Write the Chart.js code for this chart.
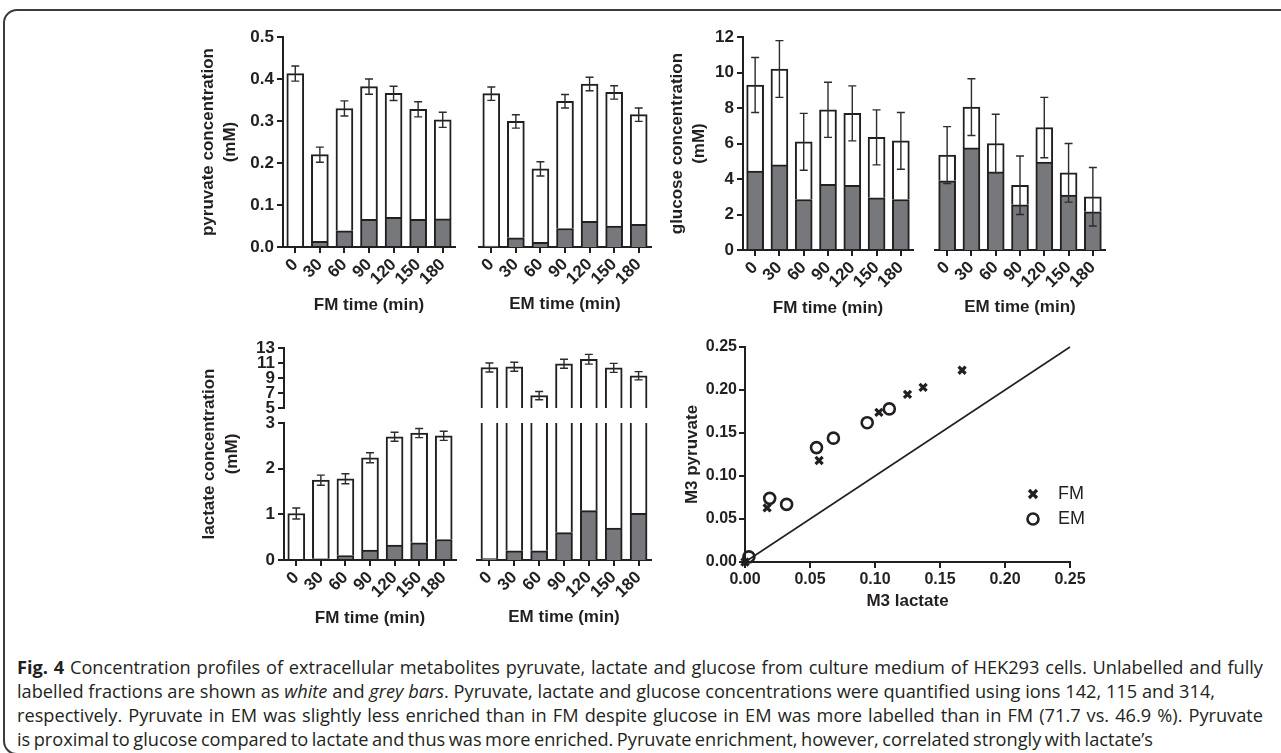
<!DOCTYPE html>
<html>
<head>
<meta charset="utf-8">
<script src="https://cdn.jsdelivr.net/npm/chart.js@4.4.1/dist/chart.umd.min.js"></script>
<style>
  html, body { margin: 0; padding: 0; background: #fff; }
  body { width: 1281px; height: 753px; position: relative; overflow: hidden; color: #231f20;
         font-family: "Liberation Sans", Arial, sans-serif; }
  canvas { position: absolute; }
  #frame { position: absolute; left: 3px; top: 9px; width: 1330px; height: 746px;
           border: 2px solid #3c3c3c; border-radius: 14px; box-sizing: border-box; }
  .ytitle { position: absolute; font-weight: bold; font-size: 17px; line-height: 23px;
            text-align: center; transform: rotate(-90deg); white-space: nowrap; }
  .cap { position: absolute; left: 17px; font-family: "Open Sans", "Noto Sans", sans-serif;
         font-size: 16px; line-height: 24px; white-space: nowrap; color: #231f20; }
  .cap b { font-weight: bold; }
</style>
</head>
<body>
<div id="frame"></div>

<canvas id="pyrFM"></canvas>
<canvas id="pyrEM"></canvas>
<canvas id="gluFM"></canvas>
<canvas id="gluEM"></canvas>
<canvas id="lacFMup"></canvas>
<canvas id="lacFMlow"></canvas>
<canvas id="lacEMup"></canvas>
<canvas id="lacEMlow"></canvas>
<canvas id="scatter"></canvas>

<div class="ytitle" style="left:100px; top:431px; width:240px; height:46px;">lactate concentration<br>(mM)</div>

<div class="cap" style="top:655px;"><span><b>Fig. 4</b> Concentration profiles of extracellular metabolites pyruvate, lactate and glucose from culture medium of HEK293 cells. Unlabelled and fully</span></div>
<div class="cap" style="top:679px;"><span>labelled fractions are shown as <i>white</i> and <i>grey bars</i>. Pyruvate, lactate and glucose concentrations were quantified using ions 142, 115 and 314,</span></div>
<div class="cap" style="top:703px;"><span>respectively. Pyruvate in EM was slightly less enriched than in FM despite glucose in EM was more labelled than in FM (71.7 vs. 46.9 %). Pyruvate</span></div>
<div class="cap" style="top:727px;"><span>is proximal to glucose compared to lactate and thus was more enriched. Pyruvate enrichment, however, correlated strongly with lactate’s</span></div>

<script>
// time points (min)
const times = ['0', '30', '60', '90', '120', '150', '180'];

// pyruvate (mM): total, labelled (grey) part, error
const pyrFmTotal = [0.413, 0.220, 0.330, 0.382, 0.366, 0.328, 0.303];
const pyrFmLabel = [0.0, 0.014, 0.039, 0.066, 0.071, 0.066, 0.067];
const pyrFmErr = [0.018, 0.018, 0.018, 0.018, 0.017, 0.018, 0.018];
const pyrEmTotal = [0.365, 0.299, 0.186, 0.347, 0.388, 0.368, 0.315];
const pyrEmLabel = [0.002, 0.022, 0.011, 0.044, 0.061, 0.050, 0.054];
const pyrEmErr = [0.016, 0.016, 0.017, 0.016, 0.016, 0.016, 0.016];

// glucose (mM)
const gluFmTotal = [9.3, 10.2, 6.1, 7.9, 7.7, 6.35, 6.15];
const gluFmLabel = [4.45, 4.8, 2.85, 3.7, 3.65, 2.95, 2.85];
const gluFmErr = [1.55, 1.6, 1.6, 1.55, 1.55, 1.55, 1.6];
const gluEmTotal = [5.35, 8.05, 6.0, 3.65, 6.9, 4.35, 3.0];
const gluEmLabel = [3.9, 5.75, 4.4, 2.55, 4.95, 3.1, 2.15];
const gluEmErr = [1.6, 1.6, 1.65, 1.65, 1.7, 1.65, 1.65];

// lactate (mM), broken axis 0-3 / 5-13
const lacFmTotal = [1.02, 1.75, 1.78, 2.24, 2.70, 2.78, 2.72];
const lacFmLabel = [0.0, 0.03, 0.1, 0.22, 0.33, 0.38, 0.45];
const lacFmErr = [0.12, 0.11, 0.11, 0.11, 0.1, 0.1, 0.1];
const lacEmTotal = [10.4, 10.5, 6.65, 10.9, 11.5, 10.35, 9.3];
const lacEmLabel = [0.03, 0.2, 0.2, 0.6, 1.08, 0.7, 1.02];
const lacEmErr = [0.6, 0.6, 0.55, 0.6, 0.65, 0.6, 0.55];

// M3 pyruvate vs M3 lactate
const fmM3Lactate = [0.0, 0.017, 0.057, 0.103, 0.125, 0.137, 0.167];
const fmM3Pyruvate = [0.0, 0.063, 0.118, 0.174, 0.195, 0.203, 0.223];
const emM3Lactate = [0.003, 0.019, 0.032, 0.055, 0.068, 0.094, 0.111];
const emM3Pyruvate = [0.006, 0.074, 0.067, 0.133, 0.144, 0.162, 0.178];
const identityLine = [0, 0.25];

const INK = '#231f20';
const GREY = '#77787b';
Chart.defaults.font.family = '"Liberation Sans", Arial, sans-serif';
Chart.defaults.color = INK;
const boldFont = { size: 17, weight: 'bold', lineHeight: 1.3 };

function makeErrorBars(total, err) {
  return {
    id: 'errorBars',
    afterDatasetsDraw(chart) {
      const { ctx, chartArea: a, scales: { x, y } } = chart;
      ctx.save();
      ctx.beginPath();
      ctx.rect(a.left, a.top, a.right - a.left, a.bottom - a.top);
      ctx.clip();
      ctx.strokeStyle = '#2e2b2c';
      ctx.lineWidth = 1.4;
      total.forEach((t, i) => {
        const px = x.getPixelForValue(i);
        const hi = y.getPixelForValue(t + err[i]);
        const lo = y.getPixelForValue(t - err[i]);
        ctx.beginPath();
        ctx.moveTo(px, hi); ctx.lineTo(px, lo);
        ctx.moveTo(px - 4, hi); ctx.lineTo(px + 4, hi);
        ctx.moveTo(px - 4, lo); ctx.lineTo(px + 4, lo);
        ctx.stroke();
      });
      ctx.restore();
    }
  };
}

function barChart(o) {
  const white = o.total.map((t, i) => t - o.label[i]);
  const common = { borderColor: INK, borderWidth: 2, borderSkipped: 'start', barThickness: 17, clip: 0 };
  return {
    type: 'bar',
    data: {
      labels: times,
      datasets: [
        Object.assign({ data: o.label, backgroundColor: GREY }, common),
        Object.assign({ data: white, backgroundColor: '#ffffff' }, common)
      ]
    },
    options: {
      responsive: false, maintainAspectRatio: false, animation: false, events: [],
      layout: { padding: { top: 14, right: 18, bottom: 2, left: 2 } },
      plugins: { legend: { display: false }, tooltip: { enabled: false } },
      scales: {
        x: {
          stacked: true, display: o.showX !== false, offset: true,
          border: { display: true, color: INK, width: 2 },
          grid: { drawOnChartArea: false, offset: false, tickLength: 6, color: INK, lineWidth: 2 },
          ticks: { font: boldFont, color: INK, minRotation: 45, maxRotation: 45, autoSkip: false, padding: 1 },
          title: { display: true, text: o.xTitle, font: { size: 17, weight: 'bold', lineHeight: 1.2 }, color: INK, padding: 0 },
          afterFit: s => { s.height = 68; }
        },
        y: {
          stacked: true, display: o.showY !== false, min: o.yMin, max: o.yMax,
          border: { display: true, color: INK, width: 2 },
          grid: { drawOnChartArea: false, tickLength: 6, color: INK, lineWidth: 2 },
          ticks: { stepSize: o.yStep, autoSkip: false, font: boldFont, color: INK, padding: 3, callback: o.yFmt },
          title: o.yTitle
            ? { display: true, text: o.yTitle, font: boldFont, color: INK, padding: { top: o.yTitlePad, bottom: 0 } }
            : { display: false },
          afterFit: s => { s.width = 100; }
        }
      }
    },
    plugins: [makeErrorBars(o.total, o.err)]
  };
}

// create a chart and move/resize its canvas so the plot area sits at the given box
function place(id, area, config) {
  const cv = document.getElementById(id);
  cv.width = area.r - area.l + 200;
  cv.height = area.b - area.t + 150;
  const chart = new Chart(cv, config);
  for (let k = 0; k < 3; k++) {
    const ca = chart.chartArea;
    const padL = ca.left, padT = ca.top;
    const padR = chart.width - ca.right, padB = chart.height - ca.bottom;
    chart.resize(area.r - area.l + padL + padR, area.b - area.t + padT + padB);
    cv.style.left = (area.l - chart.chartArea.left) + 'px';
    cv.style.top = (area.t - chart.chartArea.top) + 'px';
  }
  return chart;
}

const fmt1 = v => v.toFixed(1);
const fmt0 = v => String(v);

// pyruvate
place('pyrFM', { l: 283, r: 455, t: 37, b: 247 }, barChart({
  total: pyrFmTotal, label: pyrFmLabel, err: pyrFmErr, xTitle: 'FM time (min)',
  yMin: 0, yMax: 0.5, yStep: 0.1, yFmt: fmt1,
  yTitle: ['pyruvate concentration', '(mM)'], yTitlePad: 14
}));
place('pyrEM', { l: 479, r: 651, t: 37, b: 247 }, barChart({
  total: pyrEmTotal, label: pyrEmLabel, err: pyrEmErr, xTitle: 'EM time (min)',
  yMin: 0, yMax: 0.5, yStep: 0.1, yFmt: fmt1, showY: false
}));

// glucose
place('gluFM', { l: 743, r: 913, t: 37, b: 250 }, barChart({
  total: gluFmTotal, label: gluFmLabel, err: gluFmErr, xTitle: 'FM time (min)',
  yMin: 0, yMax: 12, yStep: 2, yFmt: fmt0,
  yTitle: ['glucose concentration', '(mM)'], yTitlePad: 23
}));
place('gluEM', { l: 935, r: 1105, t: 37, b: 250 }, barChart({
  total: gluEmTotal, label: gluEmLabel, err: gluEmErr, xTitle: 'EM time (min)',
  yMin: 0, yMax: 12, yStep: 2, yFmt: fmt0, showY: false
}));

// lactate, lower and upper segment of the broken axis
place('lacFMlow', { l: 284, r: 456, t: 423, b: 560 }, barChart({
  total: lacFmTotal, label: lacFmLabel, err: lacFmErr, xTitle: 'FM time (min)',
  yMin: 0, yMax: 3, yStep: 1, yFmt: fmt0
}));
place('lacFMup', { l: 284, r: 456, t: 348, b: 408 }, barChart({
  total: lacFmTotal, label: lacFmLabel, err: lacFmErr, xTitle: '',
  yMin: 5, yMax: 13, yStep: 2, yFmt: fmt0, showX: false
}));
place('lacEMlow', { l: 477, r: 651, t: 423, b: 560 }, barChart({
  total: lacEmTotal, label: lacEmLabel, err: lacEmErr, xTitle: 'EM time (min)',
  yMin: 0, yMax: 3, yStep: 1, yFmt: fmt0, showY: false
}));
place('lacEMup', { l: 477, r: 651, t: 348, b: 408 }, barChart({
  total: lacEmTotal, label: lacEmLabel, err: lacEmErr, xTitle: '',
  yMin: 5, yMax: 13, yStep: 2, yFmt: fmt0, showX: false, showY: false
}));

// scatter legend drawn inside the plot area
const scatterLegend = {
  id: 'scatterLegend',
  afterDraw(chart) {
    const { ctx, chartArea: a } = chart;
    const mx = a.left + 288, tx = a.left + 313;
    const y1 = a.top + 147, y2 = a.top + 172;
    ctx.save();
    ctx.strokeStyle = INK;
    ctx.lineWidth = 3.2;
    ctx.beginPath();
    ctx.moveTo(mx - 4, y1 - 4); ctx.lineTo(mx + 4, y1 + 4);
    ctx.moveTo(mx + 4, y1 - 4); ctx.lineTo(mx - 4, y1 + 4);
    ctx.stroke();
    ctx.lineWidth = 2.6;
    ctx.beginPath();
    ctx.arc(mx, y2, 5.5, 0, Math.PI * 2);
    ctx.stroke();
    ctx.fillStyle = INK;
    ctx.font = '18px "Liberation Sans", Arial, sans-serif';
    ctx.textBaseline = 'middle';
    ctx.fillText('FM', tx, y1);
    ctx.fillText('EM', tx, y2);
    ctx.restore();
  }
};

const tickFont16 = { size: 16, weight: 'bold' };
place('scatter', { l: 745, r: 1070, t: 347, b: 562 }, {
  type: 'scatter',
  data: {
    datasets: [
      { type: 'line', data: identityLine.map(v => ({ x: v, y: v })), borderColor: INK, borderWidth: 1.6,
        pointRadius: 0, clip: false, order: 3 },
      { label: 'FM', data: fmM3Lactate.map((v, i) => ({ x: v, y: fmM3Pyruvate[i] })),
        pointStyle: 'crossRot', pointRadius: 5, pointBorderWidth: 3.2,
        pointBorderColor: INK, pointBackgroundColor: INK, clip: false },
      { label: 'EM', data: emM3Lactate.map((v, i) => ({ x: v, y: emM3Pyruvate[i] })),
        pointStyle: 'circle', pointRadius: 5.5, pointBorderWidth: 2.6,
        pointBorderColor: INK, pointBackgroundColor: 'rgba(0,0,0,0)', clip: false }
    ]
  },
  options: {
    responsive: false, maintainAspectRatio: false, animation: false, events: [],
    layout: { padding: { top: 14, right: 60, bottom: 2, left: 2 } },
    plugins: { legend: { display: false }, tooltip: { enabled: false } },
    scales: {
      x: {
        type: 'linear', min: 0, max: 0.25,
        border: { display: true, color: INK, width: 2 },
        grid: { drawOnChartArea: false, tickLength: 6, color: INK, lineWidth: 2 },
        ticks: { stepSize: 0.05, maxRotation: 0, font: tickFont16, color: INK, padding: 2, callback: v => v.toFixed(2) },
        title: { display: true, text: 'M3 lactate', font: { size: 17, weight: 'bold', lineHeight: 1.2 }, color: INK, padding: 0 },
        afterFit: s => { s.height = 50; }
      },
      y: {
        type: 'linear', min: 0, max: 0.25,
        border: { display: true, color: INK, width: 2 },
        grid: { drawOnChartArea: false, tickLength: 6, color: INK, lineWidth: 2 },
        ticks: { stepSize: 0.05, font: tickFont16, color: INK, padding: 2, callback: v => v.toFixed(2) },
        title: { display: true, text: 'M3 pyruvate', font: boldFont, color: INK, padding: { top: 16, bottom: 0 } },
        afterFit: s => { s.width = 80; }
      }
    }
  },
  plugins: [scatterLegend]
});

// caption: fit the lines to the widths of the printed page
(function fitCaption() {
  const lines = Array.from(document.querySelectorAll('.cap'));
  const targets = [1246, 1198, 1246, 1136];
  const w2 = lines[1].firstElementChild.getBoundingClientRect().width;
  const fs = 16 * targets[1] / w2;
  lines.forEach(d => { d.style.fontSize = fs.toFixed(2) + 'px'; });
  lines.forEach((d, i) => {
    const span = d.firstElementChild;
    const w = span.getBoundingClientRect().width;
    const spaces = (span.textContent.match(/ /g) || []).length;
    if (spaces) span.style.wordSpacing = ((targets[i] - w) / spaces).toFixed(3) + 'px';
  });
})();
</script>
</body>
</html>
